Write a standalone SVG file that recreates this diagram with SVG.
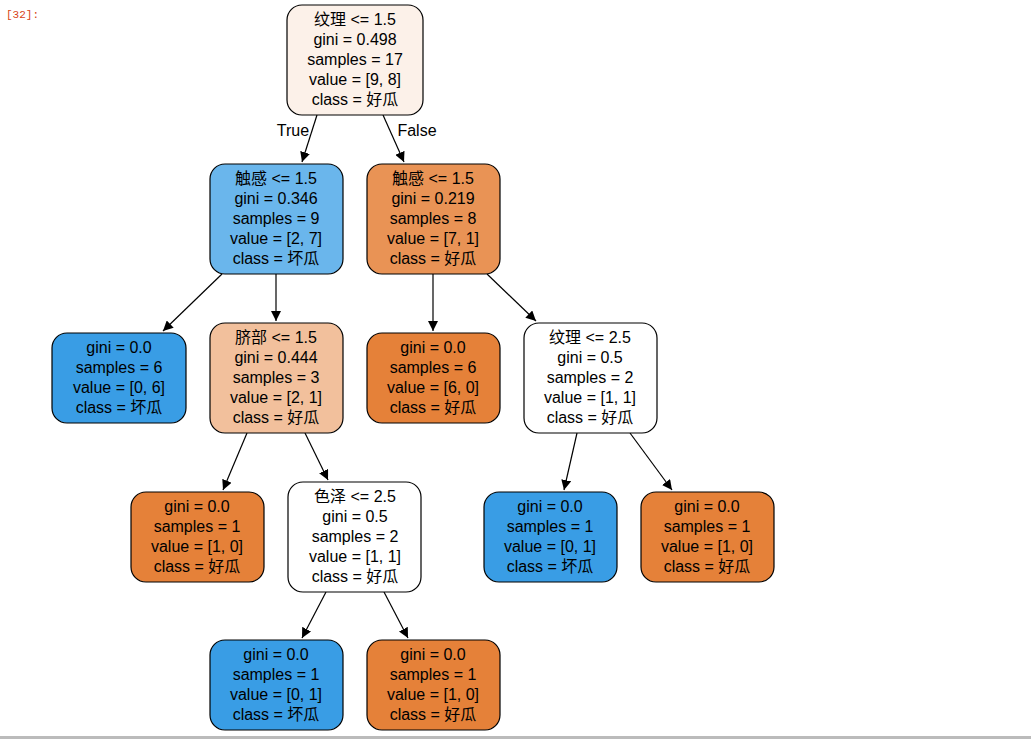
<svg xmlns="http://www.w3.org/2000/svg" width="1031" height="739" viewBox="0 0 1031 739">
<style>
.n rect{stroke:#000;stroke-width:1.2}
.n text,.e text{font-family:"Liberation Sans","Noto Sans CJK SC",sans-serif;font-size:16px;text-anchor:middle;fill:#000}
.c line{stroke:#000;stroke-width:1.2}
</style>
<defs><marker id="a" viewBox="0 0 10 10" refX="10" refY="5" markerWidth="10" markerHeight="10" markerUnits="userSpaceOnUse" orient="auto"><path d="M0,0L10,5L0,10z"/></marker></defs>
<rect width="1031" height="739" fill="#fff"/>
<text x="6" y="18" font-family="Liberation Mono,monospace" font-size="11" fill="#d84315">[32]:</text>
<line x1="0" y1="737.5" x2="1031" y2="737.5" stroke="#bbb" stroke-width="3"/>
<g class="c">
<line x1="317" y1="115" x2="302" y2="162" marker-end="url(#a)"/>
<line x1="383" y1="115" x2="404" y2="162" marker-end="url(#a)"/>
<line x1="222" y1="274" x2="163" y2="331" marker-end="url(#a)"/>
<line x1="276" y1="274" x2="276" y2="321" marker-end="url(#a)"/>
<line x1="433" y1="274" x2="433" y2="331" marker-end="url(#a)"/>
<line x1="487" y1="274" x2="536" y2="321" marker-end="url(#a)"/>
<line x1="247" y1="433" x2="223" y2="490" marker-end="url(#a)"/>
<line x1="305" y1="433" x2="328" y2="480" marker-end="url(#a)"/>
<line x1="577" y1="433" x2="564" y2="490" marker-end="url(#a)"/>
<line x1="630" y1="433" x2="672" y2="490" marker-end="url(#a)"/>
<line x1="326" y1="592" x2="302" y2="638" marker-end="url(#a)"/>
<line x1="384" y1="592" x2="408" y2="638" marker-end="url(#a)"/>
</g>
<g class="e"><text x="293" y="136">True</text><text x="417" y="136">False</text></g>
<g id="n0" class="n"><rect x="287" y="5" width="136" height="110" rx="15" fill="#fcf1e9"/><text x="355" y="25">纹理 &lt;= 1.5</text><text x="355" y="45">gini = 0.498</text><text x="355" y="65">samples = 17</text><text x="355" y="85">value = [9, 8]</text><text x="355" y="105">class = 好瓜</text></g>
<g id="n1" class="n"><rect x="210" y="164" width="133" height="110" rx="15" fill="#6ab6ec"/><text x="276" y="184">触感 &lt;= 1.5</text><text x="276" y="204">gini = 0.346</text><text x="276" y="224">samples = 9</text><text x="276" y="244">value = [2, 7]</text><text x="276" y="264">class = 坏瓜</text></g>
<g id="n2" class="n"><rect x="367" y="164" width="133" height="110" rx="15" fill="#e99355"/><text x="433" y="184">触感 &lt;= 1.5</text><text x="433" y="204">gini = 0.219</text><text x="433" y="224">samples = 8</text><text x="433" y="244">value = [7, 1]</text><text x="433" y="264">class = 好瓜</text></g>
<g id="n3" class="n"><rect x="52" y="333" width="134" height="90" rx="15" fill="#399de5"/><text x="119" y="353">gini = 0.0</text><text x="119" y="373">samples = 6</text><text x="119" y="393">value = [0, 6]</text><text x="119" y="413">class = 坏瓜</text></g>
<g id="n4" class="n"><rect x="210" y="323" width="133" height="110" rx="15" fill="#f2c09c"/><text x="276" y="343">脐部 &lt;= 1.5</text><text x="276" y="363">gini = 0.444</text><text x="276" y="383">samples = 3</text><text x="276" y="403">value = [2, 1]</text><text x="276" y="423">class = 好瓜</text></g>
<g id="n5" class="n"><rect x="367" y="333" width="133" height="90" rx="15" fill="#e58139"/><text x="433" y="353">gini = 0.0</text><text x="433" y="373">samples = 6</text><text x="433" y="393">value = [6, 0]</text><text x="433" y="413">class = 好瓜</text></g>
<g id="n6" class="n"><rect x="524" y="323" width="133" height="110" rx="15" fill="#fff"/><text x="590" y="343">纹理 &lt;= 2.5</text><text x="590" y="363">gini = 0.5</text><text x="590" y="383">samples = 2</text><text x="590" y="403">value = [1, 1]</text><text x="590" y="423">class = 好瓜</text></g>
<g id="n7" class="n"><rect x="131" y="492" width="133" height="90" rx="15" fill="#e58139"/><text x="197" y="512">gini = 0.0</text><text x="197" y="532">samples = 1</text><text x="197" y="552">value = [1, 0]</text><text x="197" y="572">class = 好瓜</text></g>
<g id="n8" class="n"><rect x="288" y="482" width="133" height="110" rx="15" fill="#fff"/><text x="355" y="502">色泽 &lt;= 2.5</text><text x="355" y="522">gini = 0.5</text><text x="355" y="542">samples = 2</text><text x="355" y="562">value = [1, 1]</text><text x="355" y="582">class = 好瓜</text></g>
<g id="n9" class="n"><rect x="484" y="492" width="133" height="90" rx="15" fill="#399de5"/><text x="550" y="512">gini = 0.0</text><text x="550" y="532">samples = 1</text><text x="550" y="552">value = [0, 1]</text><text x="550" y="572">class = 坏瓜</text></g>
<g id="n10" class="n"><rect x="641" y="492" width="133" height="90" rx="15" fill="#e58139"/><text x="707" y="512">gini = 0.0</text><text x="707" y="532">samples = 1</text><text x="707" y="552">value = [1, 0]</text><text x="707" y="572">class = 好瓜</text></g>
<g id="n11" class="n"><rect x="210" y="640" width="133" height="90" rx="15" fill="#399de5"/><text x="276" y="660">gini = 0.0</text><text x="276" y="680">samples = 1</text><text x="276" y="700">value = [0, 1]</text><text x="276" y="720">class = 坏瓜</text></g>
<g id="n12" class="n"><rect x="367" y="640" width="133" height="90" rx="15" fill="#e58139"/><text x="433" y="660">gini = 0.0</text><text x="433" y="680">samples = 1</text><text x="433" y="700">value = [1, 0]</text><text x="433" y="720">class = 好瓜</text></g>
</svg>
